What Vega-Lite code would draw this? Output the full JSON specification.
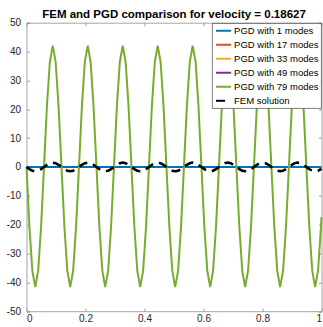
{
  "$schema": "https://vega.github.io/schema/vega-lite/v6.json",
  "width": 295,
  "height": 288.5,
  "autosize": {"type": "none"},
  "padding": {"left": 26.5, "top": 22.7, "right": 1.5, "bottom": 15.8},
  "background": "white",
  "title": {"text": "FEM and PGD comparison for velocity = 0.18627", "offset": 0, "dy": 3},
  "data": {
    "values": [
      {"s": "PGD with 1 modes", "x": 0, "y": 0},
      {"s": "PGD with 1 modes", "x": 1, "y": 0},
      {"s": "PGD with 79 modes", "x": 0, "y": 0},
      {"s": "PGD with 79 modes", "x": 0.0099, "y": -20.8},
      {"s": "PGD with 79 modes", "x": 0.0198, "y": -36},
      {"s": "PGD with 79 modes", "x": 0.0297, "y": -41.6},
      {"s": "PGD with 79 modes", "x": 0.0395, "y": -36},
      {"s": "PGD with 79 modes", "x": 0.0494, "y": -20.8},
      {"s": "PGD with 79 modes", "x": 0.0593, "y": 0},
      {"s": "PGD with 79 modes", "x": 0.0692, "y": 21},
      {"s": "PGD with 79 modes", "x": 0.0791, "y": 36.4},
      {"s": "PGD with 79 modes", "x": 0.089, "y": 42},
      {"s": "PGD with 79 modes", "x": 0.0988, "y": 36.4},
      {"s": "PGD with 79 modes", "x": 0.1087, "y": 21},
      {"s": "PGD with 79 modes", "x": 0.1186, "y": 0},
      {"s": "PGD with 79 modes", "x": 0.1285, "y": -20.8},
      {"s": "PGD with 79 modes", "x": 0.1384, "y": -36},
      {"s": "PGD with 79 modes", "x": 0.1482, "y": -41.6},
      {"s": "PGD with 79 modes", "x": 0.1581, "y": -36},
      {"s": "PGD with 79 modes", "x": 0.168, "y": -20.8},
      {"s": "PGD with 79 modes", "x": 0.1779, "y": 0},
      {"s": "PGD with 79 modes", "x": 0.1878, "y": 21},
      {"s": "PGD with 79 modes", "x": 0.1977, "y": 36.4},
      {"s": "PGD with 79 modes", "x": 0.2075, "y": 42},
      {"s": "PGD with 79 modes", "x": 0.2174, "y": 36.4},
      {"s": "PGD with 79 modes", "x": 0.2273, "y": 21},
      {"s": "PGD with 79 modes", "x": 0.2372, "y": 0},
      {"s": "PGD with 79 modes", "x": 0.2471, "y": -20.8},
      {"s": "PGD with 79 modes", "x": 0.257, "y": -36},
      {"s": "PGD with 79 modes", "x": 0.2668, "y": -41.6},
      {"s": "PGD with 79 modes", "x": 0.2767, "y": -36},
      {"s": "PGD with 79 modes", "x": 0.2866, "y": -20.8},
      {"s": "PGD with 79 modes", "x": 0.2965, "y": 0},
      {"s": "PGD with 79 modes", "x": 0.3064, "y": 21},
      {"s": "PGD with 79 modes", "x": 0.3163, "y": 36.4},
      {"s": "PGD with 79 modes", "x": 0.3262, "y": 42},
      {"s": "PGD with 79 modes", "x": 0.336, "y": 36.4},
      {"s": "PGD with 79 modes", "x": 0.3459, "y": 21},
      {"s": "PGD with 79 modes", "x": 0.3558, "y": 0},
      {"s": "PGD with 79 modes", "x": 0.3657, "y": -20.8},
      {"s": "PGD with 79 modes", "x": 0.3756, "y": -36},
      {"s": "PGD with 79 modes", "x": 0.3854, "y": -41.6},
      {"s": "PGD with 79 modes", "x": 0.3953, "y": -36},
      {"s": "PGD with 79 modes", "x": 0.4052, "y": -20.8},
      {"s": "PGD with 79 modes", "x": 0.4151, "y": 0},
      {"s": "PGD with 79 modes", "x": 0.425, "y": 21},
      {"s": "PGD with 79 modes", "x": 0.4349, "y": 36.4},
      {"s": "PGD with 79 modes", "x": 0.4447, "y": 42},
      {"s": "PGD with 79 modes", "x": 0.4546, "y": 36.4},
      {"s": "PGD with 79 modes", "x": 0.4645, "y": 21},
      {"s": "PGD with 79 modes", "x": 0.4744, "y": 0},
      {"s": "PGD with 79 modes", "x": 0.4843, "y": -20.8},
      {"s": "PGD with 79 modes", "x": 0.4942, "y": -36},
      {"s": "PGD with 79 modes", "x": 0.504, "y": -41.6},
      {"s": "PGD with 79 modes", "x": 0.5139, "y": -36},
      {"s": "PGD with 79 modes", "x": 0.5238, "y": -20.8},
      {"s": "PGD with 79 modes", "x": 0.5337, "y": 0},
      {"s": "PGD with 79 modes", "x": 0.5436, "y": 21},
      {"s": "PGD with 79 modes", "x": 0.5535, "y": 36.4},
      {"s": "PGD with 79 modes", "x": 0.5633, "y": 42},
      {"s": "PGD with 79 modes", "x": 0.5732, "y": 36.4},
      {"s": "PGD with 79 modes", "x": 0.5831, "y": 21},
      {"s": "PGD with 79 modes", "x": 0.593, "y": 0},
      {"s": "PGD with 79 modes", "x": 0.6029, "y": -20.8},
      {"s": "PGD with 79 modes", "x": 0.6128, "y": -36},
      {"s": "PGD with 79 modes", "x": 0.6226, "y": -41.6},
      {"s": "PGD with 79 modes", "x": 0.6325, "y": -36},
      {"s": "PGD with 79 modes", "x": 0.6424, "y": -20.8},
      {"s": "PGD with 79 modes", "x": 0.6523, "y": 0},
      {"s": "PGD with 79 modes", "x": 0.6622, "y": 21},
      {"s": "PGD with 79 modes", "x": 0.6721, "y": 36.4},
      {"s": "PGD with 79 modes", "x": 0.6819, "y": 42},
      {"s": "PGD with 79 modes", "x": 0.6918, "y": 36.4},
      {"s": "PGD with 79 modes", "x": 0.7017, "y": 21},
      {"s": "PGD with 79 modes", "x": 0.7116, "y": 0},
      {"s": "PGD with 79 modes", "x": 0.7215, "y": -20.8},
      {"s": "PGD with 79 modes", "x": 0.7314, "y": -36},
      {"s": "PGD with 79 modes", "x": 0.7412, "y": -41.6},
      {"s": "PGD with 79 modes", "x": 0.7511, "y": -36},
      {"s": "PGD with 79 modes", "x": 0.761, "y": -20.8},
      {"s": "PGD with 79 modes", "x": 0.7709, "y": 0},
      {"s": "PGD with 79 modes", "x": 0.7808, "y": 21},
      {"s": "PGD with 79 modes", "x": 0.7907, "y": 36.4},
      {"s": "PGD with 79 modes", "x": 0.8005, "y": 42},
      {"s": "PGD with 79 modes", "x": 0.8104, "y": 36.4},
      {"s": "PGD with 79 modes", "x": 0.8203, "y": 21},
      {"s": "PGD with 79 modes", "x": 0.8302, "y": 0},
      {"s": "PGD with 79 modes", "x": 0.8401, "y": -20.8},
      {"s": "PGD with 79 modes", "x": 0.85, "y": -36},
      {"s": "PGD with 79 modes", "x": 0.8598, "y": -41.6},
      {"s": "PGD with 79 modes", "x": 0.8697, "y": -36},
      {"s": "PGD with 79 modes", "x": 0.8796, "y": -20.8},
      {"s": "PGD with 79 modes", "x": 0.8895, "y": 0},
      {"s": "PGD with 79 modes", "x": 0.8994, "y": 21},
      {"s": "PGD with 79 modes", "x": 0.9093, "y": 36.4},
      {"s": "PGD with 79 modes", "x": 0.9191, "y": 42},
      {"s": "PGD with 79 modes", "x": 0.929, "y": 36.4},
      {"s": "PGD with 79 modes", "x": 0.9389, "y": 21},
      {"s": "PGD with 79 modes", "x": 0.9488, "y": 0},
      {"s": "PGD with 79 modes", "x": 0.9587, "y": -20.8},
      {"s": "PGD with 79 modes", "x": 0.9686, "y": -36},
      {"s": "PGD with 79 modes", "x": 0.9784, "y": -41.6},
      {"s": "PGD with 79 modes", "x": 0.9883, "y": -36},
      {"s": "PGD with 79 modes", "x": 0.9982, "y": -20.8},
      {"s": "PGD with 79 modes", "x": 1, "y": -17.4},
      {"s": "FEM solution", "x": 0, "y": 0},
      {"s": "FEM solution", "x": 0.0099, "y": -0.75},
      {"s": "FEM solution", "x": 0.0198, "y": -1.3},
      {"s": "FEM solution", "x": 0.0297, "y": -1.5},
      {"s": "FEM solution", "x": 0.0395, "y": -1.3},
      {"s": "FEM solution", "x": 0.0494, "y": -0.75},
      {"s": "FEM solution", "x": 0.0593, "y": 0},
      {"s": "FEM solution", "x": 0.0692, "y": 0.75},
      {"s": "FEM solution", "x": 0.0791, "y": 1.3},
      {"s": "FEM solution", "x": 0.089, "y": 1.5},
      {"s": "FEM solution", "x": 0.0988, "y": 1.3},
      {"s": "FEM solution", "x": 0.1087, "y": 0.75},
      {"s": "FEM solution", "x": 0.1186, "y": 0},
      {"s": "FEM solution", "x": 0.1285, "y": -0.75},
      {"s": "FEM solution", "x": 0.1384, "y": -1.3},
      {"s": "FEM solution", "x": 0.1482, "y": -1.5},
      {"s": "FEM solution", "x": 0.1581, "y": -1.3},
      {"s": "FEM solution", "x": 0.168, "y": -0.75},
      {"s": "FEM solution", "x": 0.1779, "y": 0},
      {"s": "FEM solution", "x": 0.1878, "y": 0.75},
      {"s": "FEM solution", "x": 0.1977, "y": 1.3},
      {"s": "FEM solution", "x": 0.2075, "y": 1.5},
      {"s": "FEM solution", "x": 0.2174, "y": 1.3},
      {"s": "FEM solution", "x": 0.2273, "y": 0.75},
      {"s": "FEM solution", "x": 0.2372, "y": 0},
      {"s": "FEM solution", "x": 0.2471, "y": -0.75},
      {"s": "FEM solution", "x": 0.257, "y": -1.3},
      {"s": "FEM solution", "x": 0.2668, "y": -1.5},
      {"s": "FEM solution", "x": 0.2767, "y": -1.3},
      {"s": "FEM solution", "x": 0.2866, "y": -0.75},
      {"s": "FEM solution", "x": 0.2965, "y": 0},
      {"s": "FEM solution", "x": 0.3064, "y": 0.75},
      {"s": "FEM solution", "x": 0.3163, "y": 1.3},
      {"s": "FEM solution", "x": 0.3262, "y": 1.5},
      {"s": "FEM solution", "x": 0.336, "y": 1.3},
      {"s": "FEM solution", "x": 0.3459, "y": 0.75},
      {"s": "FEM solution", "x": 0.3558, "y": 0},
      {"s": "FEM solution", "x": 0.3657, "y": -0.75},
      {"s": "FEM solution", "x": 0.3756, "y": -1.3},
      {"s": "FEM solution", "x": 0.3854, "y": -1.5},
      {"s": "FEM solution", "x": 0.3953, "y": -1.3},
      {"s": "FEM solution", "x": 0.4052, "y": -0.75},
      {"s": "FEM solution", "x": 0.4151, "y": 0},
      {"s": "FEM solution", "x": 0.425, "y": 0.75},
      {"s": "FEM solution", "x": 0.4349, "y": 1.3},
      {"s": "FEM solution", "x": 0.4447, "y": 1.5},
      {"s": "FEM solution", "x": 0.4546, "y": 1.3},
      {"s": "FEM solution", "x": 0.4645, "y": 0.75},
      {"s": "FEM solution", "x": 0.4744, "y": 0},
      {"s": "FEM solution", "x": 0.4843, "y": -0.75},
      {"s": "FEM solution", "x": 0.4942, "y": -1.3},
      {"s": "FEM solution", "x": 0.504, "y": -1.5},
      {"s": "FEM solution", "x": 0.5139, "y": -1.3},
      {"s": "FEM solution", "x": 0.5238, "y": -0.75},
      {"s": "FEM solution", "x": 0.5337, "y": 0},
      {"s": "FEM solution", "x": 0.5436, "y": 0.75},
      {"s": "FEM solution", "x": 0.5535, "y": 1.3},
      {"s": "FEM solution", "x": 0.5633, "y": 1.5},
      {"s": "FEM solution", "x": 0.5732, "y": 1.3},
      {"s": "FEM solution", "x": 0.5831, "y": 0.75},
      {"s": "FEM solution", "x": 0.593, "y": 0},
      {"s": "FEM solution", "x": 0.6029, "y": -0.75},
      {"s": "FEM solution", "x": 0.6128, "y": -1.3},
      {"s": "FEM solution", "x": 0.6226, "y": -1.5},
      {"s": "FEM solution", "x": 0.6325, "y": -1.3},
      {"s": "FEM solution", "x": 0.6424, "y": -0.75},
      {"s": "FEM solution", "x": 0.6523, "y": 0},
      {"s": "FEM solution", "x": 0.6622, "y": 0.75},
      {"s": "FEM solution", "x": 0.6721, "y": 1.3},
      {"s": "FEM solution", "x": 0.6819, "y": 1.5},
      {"s": "FEM solution", "x": 0.6918, "y": 1.3},
      {"s": "FEM solution", "x": 0.7017, "y": 0.75},
      {"s": "FEM solution", "x": 0.7116, "y": 0},
      {"s": "FEM solution", "x": 0.7215, "y": -0.75},
      {"s": "FEM solution", "x": 0.7314, "y": -1.3},
      {"s": "FEM solution", "x": 0.7412, "y": -1.5},
      {"s": "FEM solution", "x": 0.7511, "y": -1.3},
      {"s": "FEM solution", "x": 0.761, "y": -0.75},
      {"s": "FEM solution", "x": 0.7709, "y": 0},
      {"s": "FEM solution", "x": 0.7808, "y": 0.75},
      {"s": "FEM solution", "x": 0.7907, "y": 1.3},
      {"s": "FEM solution", "x": 0.8005, "y": 1.5},
      {"s": "FEM solution", "x": 0.8104, "y": 1.3},
      {"s": "FEM solution", "x": 0.8203, "y": 0.75},
      {"s": "FEM solution", "x": 0.8302, "y": 0},
      {"s": "FEM solution", "x": 0.8401, "y": -0.75},
      {"s": "FEM solution", "x": 0.85, "y": -1.3},
      {"s": "FEM solution", "x": 0.8598, "y": -1.5},
      {"s": "FEM solution", "x": 0.8697, "y": -1.3},
      {"s": "FEM solution", "x": 0.8796, "y": -0.75},
      {"s": "FEM solution", "x": 0.8895, "y": 0},
      {"s": "FEM solution", "x": 0.8994, "y": 0.75},
      {"s": "FEM solution", "x": 0.9093, "y": 1.3},
      {"s": "FEM solution", "x": 0.9191, "y": 1.5},
      {"s": "FEM solution", "x": 0.929, "y": 1.3},
      {"s": "FEM solution", "x": 0.9389, "y": 0.75},
      {"s": "FEM solution", "x": 0.9488, "y": 0},
      {"s": "FEM solution", "x": 0.9587, "y": -0.75},
      {"s": "FEM solution", "x": 0.9686, "y": -1.3},
      {"s": "FEM solution", "x": 0.9784, "y": -1.5},
      {"s": "FEM solution", "x": 0.9883, "y": -1.3},
      {"s": "FEM solution", "x": 0.9982, "y": -0.75},
      {"s": "FEM solution", "x": 1, "y": -0.62}
    ]
  },
  "encoding": {
    "color": {
      "field": "s",
      "type": "nominal",
      "scale": {
        "domain": ["PGD with 1 modes", "PGD with 17 modes", "PGD with 33 modes", "PGD with 49 modes", "PGD with 79 modes", "FEM solution"],
        "range": ["#0072BD", "#D95319", "#EDB120", "#7E2F8E", "#77AC30", "#000000"]
      },
      "legend": {"title": null}
    },
    "strokeDash": {
      "field": "s",
      "type": "nominal",
      "scale": {
        "domain": ["PGD with 1 modes", "PGD with 17 modes", "PGD with 33 modes", "PGD with 49 modes", "PGD with 79 modes", "FEM solution"],
        "range": [[1, 0], [1, 0], [1, 0], [1, 0], [1, 0], [9, 6]]
      },
      "legend": {"title": null}
    }
  },
  "layer": [
    {
      "transform": [{"filter": "datum.s === 'PGD with 1 modes'"}],
      "mark": {"type": "line", "strokeWidth": 2},
      "encoding": {
        "x": {"field": "x", "type": "quantitative", "scale": {"domain": [0, 1], "nice": false},
          "axis": {"orient": "bottom", "values": [0, 0.2, 0.4, 0.6, 0.8, 1], "labelExpr": "'' + datum.value", "labelPadding": 5, "labelBaseline": "top"}},
        "y": {"field": "y", "type": "quantitative", "scale": {"domain": [-50, 50], "nice": false},
          "axis": {"orient": "left", "values": [-50, -40, -30, -20, -10, 0, 10, 20, 30, 40, 50], "labelExpr": "'' + datum.value", "labelPadding": 9}}
      }
    },
    {
      "transform": [{"filter": "datum.s === 'PGD with 79 modes'"}],
      "mark": {"type": "line", "strokeWidth": 2},
      "encoding": {
        "x": {"field": "x", "type": "quantitative",
          "axis": {"orient": "top", "values": [0, 0.2, 0.4, 0.6, 0.8, 1], "labels": false}},
        "y": {"field": "y", "type": "quantitative",
          "axis": {"orient": "right", "values": [-50, -40, -30, -20, -10, 0, 10, 20, 30, 40, 50], "labels": false}}
      }
    },
    {
      "transform": [{"filter": "datum.s === 'FEM solution'"}],
      "mark": {"type": "line", "strokeWidth": 2.5},
      "encoding": {
        "x": {"field": "x", "type": "quantitative", "axis": null},
        "y": {"field": "y", "type": "quantitative", "axis": null}
      }
    }
  ],
  "resolve": {"axis": {"x": "independent", "y": "independent"}},
  "config": {
    "font": "Liberation Sans",
    "view": {"stroke": null},
    "axis": {
      "grid": false,
      "title": null,
      "domainColor": "#a6a6a6",
      "domainWidth": 1,
      "tickColor": "#555555",
      "tickWidth": 0.6,
      "tickSize": -3,
      "labelColor": "#262626",
      "labelFont": "Liberation Sans",
      "labelFontSize": 10
    },
    "legend": {
      "orient": "none",
      "legendX": 185.8,
      "legendY": 0.6,
      "fillColor": "white",
      "strokeColor": "#262626",
      "strokeWidth": 0.6,
      "padding": 2.5,
      "rowPadding": 4,
      "symbolType": "M-2,0H2",
      "symbolSize": 56.25,
      "symbolStrokeWidth": 2,
      "symbolOffset": 3.75,
      "labelOffset": 5.5,
      "labelFont": "Liberation Sans",
      "labelFontSize": 9.5,
      "labelColor": "#000000"
    },
    "title": {
      "font": "Liberation Sans",
      "fontSize": 11.5,
      "fontWeight": "bold",
      "color": "#000000",
      "anchor": "middle"
    }
  }
}
